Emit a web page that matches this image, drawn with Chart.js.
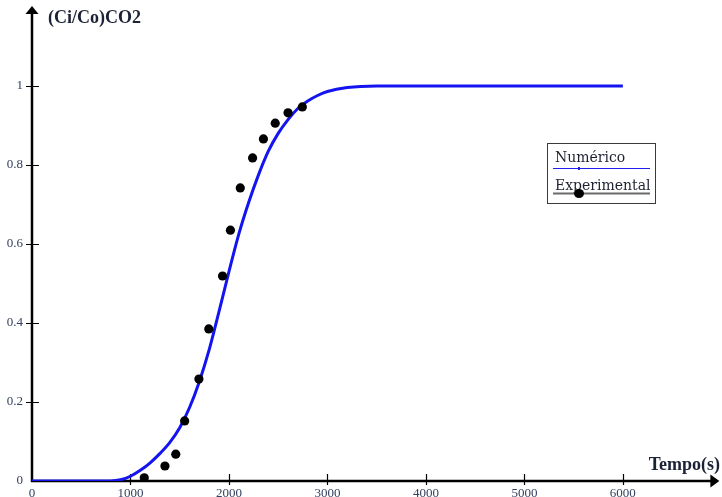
<!DOCTYPE html>
<html>
<head>
<meta charset="utf-8">
<script src="https://cdn.jsdelivr.net/npm/chart.js@4"></script>
<style>
  html, body { margin: 0; padding: 0; background: #fff; }
  #wrap { width: 722px; height: 497px; }
</style>
</head>
<body>
<div id="wrap"><canvas id="c" width="722" height="497"></canvas></div>
<script>
// Numerical solution: outlet/inlet CO2 concentration ratio vs time
const numTime = [0, 800, 900, 1000, 1100, 1200, 1300, 1400, 1500, 1600, 1700, 1800, 1900, 2000,
                 2100, 2200, 2300, 2400, 2500, 2600, 2700, 2800, 2900, 3000, 3200, 3500, 4200, 6000];
const numConc = [0, 0, 0.003, 0.012, 0.027, 0.046, 0.07, 0.098, 0.135, 0.186, 0.252, 0.333, 0.43, 0.53,
                 0.625, 0.705, 0.775, 0.835, 0.88, 0.915, 0.943, 0.962, 0.976, 0.986, 0.996, 1.0, 1.0, 1.0];

// Experimental breakthrough measurements
const expTime = [1140, 1350, 1460, 1550, 1695, 1795, 1935, 2015, 2115, 2240, 2350, 2470, 2600, 2745];
const expConc = [0.008, 0.038, 0.068, 0.152, 0.258, 0.385, 0.519, 0.635, 0.742, 0.818, 0.866, 0.906, 0.932, 0.947];

const xTicks = [0, 1000, 2000, 3000, 4000, 5000, 6000];
const yTicks = [0, 0.2, 0.4, 0.6, 0.8, 1];

const seriesNames = ['Numérico', 'Experimental'];
const yTitle = '(Ci/Co)CO2';
const xTitle = 'Tempo(s)';

const toPoints = (xs, ys) => xs.map((x, i) => ({ x: x, y: ys[i] }));

const labelColor = '#34415e';
const serif = '"Liberation Serif", "Times New Roman", serif';

// Axes with arrows, crossing tick marks, titles and the boxed legend
const decor = {
  id: 'decor',
  beforeDatasetsDraw(chart) {
    const ctx = chart.ctx;
    const xs = chart.scales.x, ys = chart.scales.y;
    const x0 = xs.getPixelForValue(0);
    const y0 = ys.getPixelForValue(0);
    const ca = chart.chartArea;
    ctx.save();
    ctx.strokeStyle = '#000';
    ctx.fillStyle = '#000';
    ctx.lineWidth = 2.5;
    ctx.beginPath();
    ctx.moveTo(x0, y0 + 1);
    ctx.lineTo(x0, ca.top + 6);
    ctx.moveTo(x0 - 1, y0);
    ctx.lineTo(ca.right - 6, y0);
    ctx.stroke();
    // arrow heads
    ctx.beginPath();
    ctx.moveTo(x0, ca.top - 1);
    ctx.lineTo(x0 - 6.5, ca.top + 7);
    ctx.lineTo(x0 + 6.5, ca.top + 7);
    ctx.closePath();
    ctx.fill();
    ctx.beginPath();
    ctx.moveTo(ca.right + 2, y0);
    ctx.lineTo(ca.right - 7, y0 - 6.5);
    ctx.lineTo(ca.right - 7, y0 + 6.5);
    ctx.closePath();
    ctx.fill();
    // tick marks
    ctx.lineWidth = 1.2;
    ctx.beginPath();
    yTicks.forEach(v => {
      if (v === 0) return;
      const p = Math.round(ys.getPixelForValue(v)) + 0.5;
      ctx.moveTo(x0 - 6, p);
      ctx.lineTo(x0 + 7, p);
    });
    xTicks.forEach(v => {
      if (v === 0) return;
      const p = Math.round(xs.getPixelForValue(v)) + 0.5;
      ctx.moveTo(p, y0 - 7);
      ctx.lineTo(p, y0 + 4);
    });
    ctx.stroke();
    ctx.restore();
  },
  afterDraw(chart) {
    const ctx = chart.ctx;
    ctx.save();
    // axis titles
    ctx.fillStyle = '#1c2236';
    ctx.font = 'bold 18px ' + serif;
    ctx.textBaseline = 'alphabetic';
    ctx.textAlign = 'left';
    ctx.fillText(yTitle, 48, 23);
    ctx.textAlign = 'right';
    ctx.fillText(xTitle, 720, 470);

    // legend box
    const bx = 547, by = 143, bw = 108, bh = 60;
    ctx.strokeStyle = '#3a3a3a';
    ctx.lineWidth = 1;
    ctx.strokeRect(bx + 0.5, by + 0.5, bw, bh);
    ctx.fillStyle = '#1e2233';
    ctx.font = '14px "DejaVu Serif", serif';
    ctx.textAlign = 'left';
    ctx.fillText(seriesNames[0], 555, 162);
    ctx.fillText(seriesNames[1], 555, 190);
    // numeric sample
    ctx.strokeStyle = '#1f1ff0';
    ctx.lineWidth = 1.2;
    ctx.beginPath();
    ctx.moveTo(553, 168.5);
    ctx.lineTo(650, 168.5);
    ctx.stroke();
    ctx.fillStyle = '#1f1ff0';
    ctx.fillRect(578, 167, 2, 3);
    // experimental sample
    ctx.strokeStyle = '#6a6a6a';
    ctx.lineWidth = 2;
    ctx.beginPath();
    ctx.moveTo(553, 193.5);
    ctx.lineTo(650, 193.5);
    ctx.stroke();
    ctx.fillStyle = '#000';
    ctx.beginPath();
    ctx.ellipse(579, 193.5, 5, 4.5, 0, 0, Math.PI * 2);
    ctx.fill();
    ctx.restore();
  }
};

new Chart(document.getElementById('c'), {
  type: 'scatter',
  data: {
    datasets: [
      {
        label: seriesNames[0],
        data: toPoints(numTime, numConc),
        showLine: true,
        borderColor: '#1414f0',
        borderWidth: 3,
        pointRadius: 0,
        cubicInterpolationMode: 'monotone',
        fill: false,
        order: 2
      },
      {
        label: seriesNames[1],
        data: toPoints(expTime, expConc),
        showLine: false,
        backgroundColor: '#000',
        borderColor: '#000',
        pointRadius: 4.6,
        pointBorderWidth: 0,
        order: 1
      }
    ]
  },
  options: {
    responsive: false,
    animation: false,
    layout: { padding: { top: 7, right: 0, left: 0, bottom: 0 } },
    plugins: {
      legend: { display: false },
      tooltip: { enabled: false }
    },
    scales: {
      x: {
        type: 'linear',
        min: 0,
        max: 6960,
        grid: { display: false, drawTicks: false },
        border: { display: false },
        afterBuildTicks: s => { s.ticks = xTicks.map(v => ({ value: v })); },
        afterFit: s => { s.height = 16; s.paddingLeft = 0; s.paddingRight = 0; },
        ticks: {
          padding: 5,
          color: labelColor,
          font: { family: serif, size: 13 },
          maxRotation: 0,
          callback: v => String(v)
        }
      },
      y: {
        type: 'linear',
        min: 0,
        max: 1.2,
        grid: { display: false, drawTicks: false },
        border: { display: false },
        afterBuildTicks: s => { s.ticks = yTicks.map(v => ({ value: v })); },
        afterFit: s => { s.width = 32; s.paddingTop = 0; s.paddingBottom = 0; },
        ticks: {
          padding: 9,
          color: labelColor,
          font: { family: serif, size: 13 },
          callback: v => String(v)
        }
      }
    }
  },
  plugins: [decor]
});
</script>
</body>
</html>
